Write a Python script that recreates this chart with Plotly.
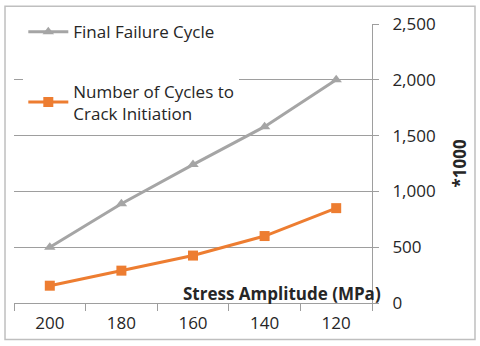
import plotly.graph_objects as go

# data
stress = ["200", "180", "160", "140", "120"]
final_failure = [500, 890, 1240, 1580, 2000]
crack_init = [155, 290, 425, 600, 850]
y_ticks = [0, 500, 1000, 1500, 2000, 2500]

FONT = "Open Sans"
GRID = "#9e9e9e"
TEXT = "#262626"

fig = go.Figure()

fig.add_trace(go.Scatter(
    x=stress, y=final_failure,
    mode="lines+markers",
    name="Final Failure Cycle",
    legendgroup="a",
    line=dict(color="#a5a5a5", width=3),
    marker=dict(symbol="triangle-up", size=10, color="#a5a5a5"),
))

fig.add_trace(go.Scatter(
    x=stress, y=crack_init,
    mode="lines+markers",
    name="Number of Cycles to<br>Crack Initiation",
    legendgroup="b",
    line=dict(color="#ed7d31", width=3),
    marker=dict(symbol="square", size=10, color="#ed7d31"),
))

fig.update_xaxes(
    type="category",
    range=[-0.5, len(stress) - 0.5],
    tickson="boundaries",
    ticks="outside", ticklen=7, tickcolor=GRID,
    showline=True, linecolor=GRID, linewidth=1,
    showgrid=False,
    tickfont=dict(size=17, color=TEXT),
    ticklabelstandoff=5,
)

fig.update_yaxes(
    side="right",
    range=[0, 2500],
    tickvals=y_ticks,
    tickformat=",",
    ticks="outside", ticklen=6, tickcolor=GRID,
    showline=True, linecolor=GRID, linewidth=1,
    showgrid=True, gridcolor=GRID, gridwidth=1,
    zeroline=False,
    tickfont=dict(size=17, color=TEXT),
    ticklabelstandoff=10,
)

# x axis title sits inside the plot, y axis title is "*1000" at the far right
fig.add_annotation(
    text="<b>Stress Amplitude (MPa)</b>",
    xref="paper", yref="paper", x=1.03, y=0.035,
    xanchor="right", yanchor="middle", showarrow=False,
    font=dict(size=17, color=TEXT, family=FONT),
)
fig.add_annotation(
    text="<b>*1000</b>",
    xref="paper", yref="paper", x=1.2458, y=0.50,
    xanchor="center", yanchor="middle", textangle=-90, showarrow=False,
    font=dict(size=17, color=TEXT, family=FONT),
)

# chart border
fig.add_shape(
    type="rect", xref="paper", yref="paper",
    x0=-0.0251, x1=1.2877, y0=-0.1307, y1=1.0636,
    line=dict(color="#bfbfbf", width=1.5),
)

fig.update_layout(
    width=480, height=346,
    margin=dict(l=14, r=108, t=22, b=41),
    font=dict(family=FONT, size=17, color=TEXT),
    plot_bgcolor="white",
    paper_bgcolor="white",
    showlegend=True,
    legend=dict(
        x=0.026, y=1.035, xanchor="left", yanchor="top",
        bgcolor="white",
        font=dict(size=17, color=TEXT),
        tracegroupgap=34,
        itemwidth=40,
    ),
)

fig.write_html(
    "out.html",
    config=dict(displayModeBar=False),
    post_script="document.body.style.margin='0';",
)
